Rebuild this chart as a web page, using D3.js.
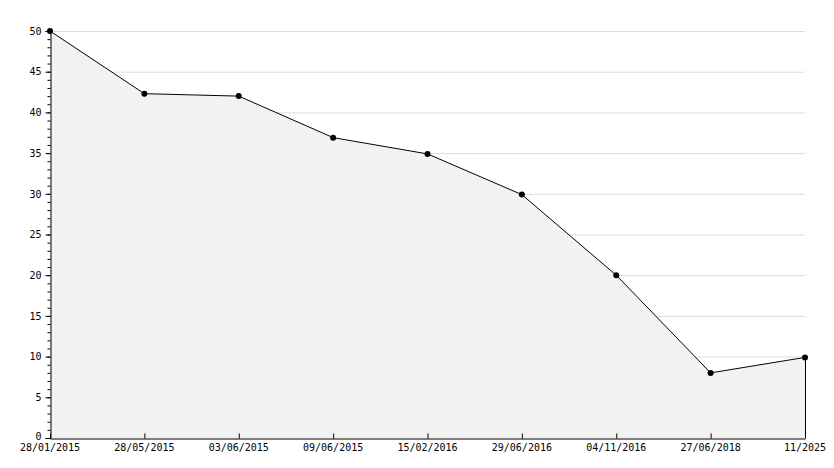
<!DOCTYPE html>
<html><head><meta charset="utf-8">
<script src="https://cdn.jsdelivr.net/npm/d3@7"></script>
<style>body{margin:0;background:#fff}text{font-family:"DejaVu Sans Mono",monospace;font-size:10px;fill:#000}</style>
</head><body><div id="vis"></div>
<script>
// chart data
const categories = ["28/01/2015","28/05/2015","03/06/2015","09/06/2015","15/02/2016","29/06/2016","04/11/2016","27/06/2018","11/2025"];
const values = [50, 42.3, 42, 36.9, 34.9, 29.9, 20, 8, 9.9];
const yTicks = [0,5,10,15,20,25,30,35,40,45,50];

const FRAME_WIDTH = 834, FRAME_HEIGHT = 468;
const MARGINS = {left: 50, right: 29, top: 31, bottom: 30};

const FRAME = d3.select("#vis").append("svg")
  .attr("width", FRAME_WIDTH).attr("height", FRAME_HEIGHT);

const X_SCALE = d3.scalePoint().domain(categories)
  .range([MARGINS.left, FRAME_WIDTH - MARGINS.right]);
const Y_SCALE = d3.scaleLinear().domain([0, 50])
  .range([FRAME_HEIGHT - MARGINS.bottom, MARGINS.top]);

// grid lines
FRAME.append("g").selectAll("line").data(yTicks.slice(1)).enter().append("line")
  .attr("x1", MARGINS.left).attr("x2", FRAME_WIDTH - MARGINS.right)
  .attr("y1", d => Y_SCALE(d) + 0.5).attr("y2", d => Y_SCALE(d) + 0.5)
  .attr("stroke", "#dddddd");

// area
const area = d3.area().x((d, i) => X_SCALE(categories[i]))
  .y0(Y_SCALE(0)).y1(d => Y_SCALE(d));
FRAME.append("path").datum(values).attr("d", area).attr("fill", "#f2f2f2");
FRAME.append("line")
  .attr("x1", X_SCALE(categories[categories.length-1]) + 0.5).attr("x2", X_SCALE(categories[categories.length-1]) + 0.5)
  .attr("y1", Y_SCALE(values[values.length-1])).attr("y2", Y_SCALE(0)).attr("stroke", "#000");

const line = d3.line().x((d, i) => X_SCALE(categories[i])).y(d => Y_SCALE(d));
FRAME.append("path").datum(values).attr("d", line)
  .attr("fill", "none").attr("stroke", "#000").attr("stroke-width", 1);

FRAME.append("g").selectAll("circle").data(values).enter().append("circle")
  .attr("cx", (d, i) => X_SCALE(categories[i])).attr("cy", d => Y_SCALE(d))
  .attr("r", 3).attr("fill", "#000");

// y axis with minor ticks
const yAxis = FRAME.append("g").attr("transform", "translate(" + (MARGINS.left + 0.5) + ",0)");
yAxis.call(d3.axisLeft(Y_SCALE).tickValues(d3.range(0, 51, 1)).tickSize(3).tickFormat(""))
  .select(".domain").remove();
yAxis.append("g").call(d3.axisLeft(Y_SCALE).tickValues(yTicks).tickSize(5).tickPadding(4))
  .call(g => g.select(".domain").attr("stroke", "#000"))
  .selectAll("text").attr("font-family", null).attr("font-size", null)
  .attr("dy", d => d === 0 ? "0.1em" : "0.32em");

// x axis
const xAxis = FRAME.append("g").attr("transform", "translate(0," + (Y_SCALE(0) + 0.5) + ")");
xAxis.call(d3.axisTop(X_SCALE).tickSize(5).tickSizeOuter(0).tickFormat(""));
xAxis.selectAll(".tick line").attr("stroke", "#000");
xAxis.append("g").selectAll("text").data(categories).enter().append("text")
  .attr("x", d => X_SCALE(d)).attr("y", 12).attr("text-anchor", "middle").text(d => d);
</script></body></html>
